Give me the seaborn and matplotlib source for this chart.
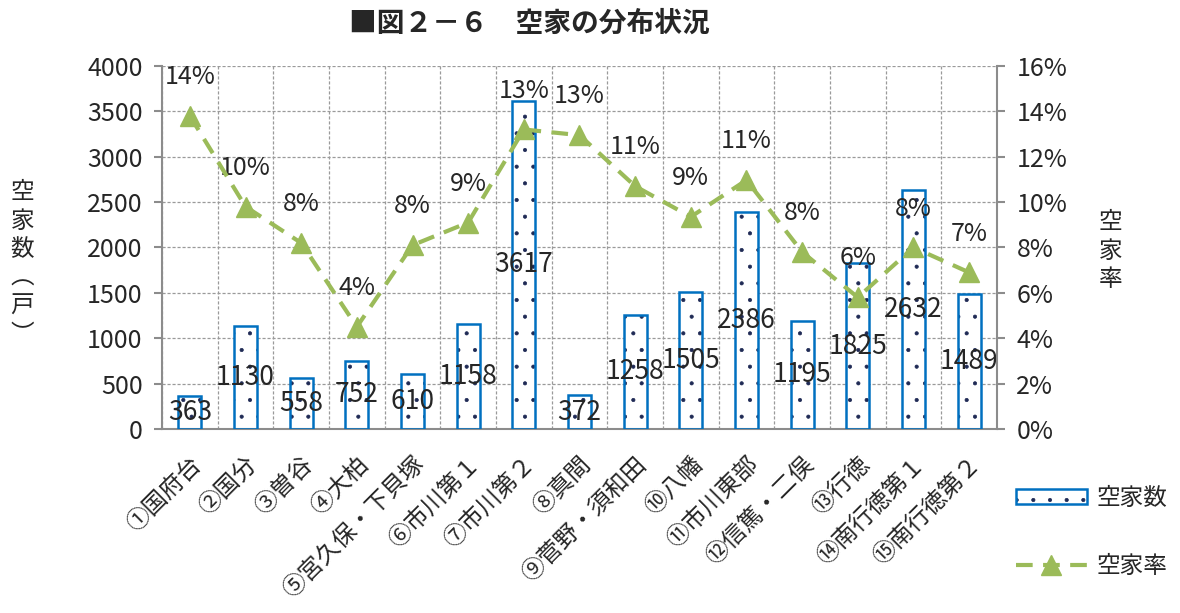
import matplotlib
matplotlib.use('Agg')
import matplotlib.pyplot as plt
import numpy as np
import seaborn as sns
from matplotlib.patches import Patch
from matplotlib.lines import Line2D

# Data
areas = ['①国府台', '②国分', '③曽谷', '④大柏', '⑤宮久保・下貝塚', '⑥市川第１',
         '⑦市川第２', '⑧真間', '⑨菅野・須和田', '⑩八幡', '⑪市川東部',
         '⑫信篤・二俣', '⑬行徳', '⑭南行徳第１', '⑮南行徳第２']
vacant = [363, 1130, 558, 752, 610, 1158, 3617, 372, 1258, 1505, 2386, 1195,
          1825, 2632, 1489]
rate = [0.138, 0.098, 0.082, 0.045, 0.081, 0.091, 0.132, 0.1295, 0.107,
        0.0935, 0.1097, 0.078, 0.058, 0.080, 0.069]
left_ticks = [0, 500, 1000, 1500, 2000, 2500, 3000, 3500, 4000]
right_ticks = [0, 0.02, 0.04, 0.06, 0.08, 0.10, 0.12, 0.14, 0.16]

sns.set_style('white')
plt.rcParams['font.family'] = ['Noto Sans CJK JP', 'DejaVu Sans']
plt.rcParams['hatch.linewidth'] = 0.5

bar_edge = '#0070C0'
dot_color = '#1F2A55'
line_color = '#9BBB59'
grid_color = '#9A9A9A'
spine_color = '#8C8C8C'
num_size = 18

fig = plt.figure(figsize=(11.8, 6.13), dpi=100)
ax = fig.add_axes([0.1373, 0.3002, 0.7076, 0.5922])

# dotted fill first, then the blue outline on top
sns.barplot(x=areas, y=vacant, ax=ax, color='white', width=0.41,
            saturation=1, linewidth=0, edgecolor=dot_color, zorder=2)
for p in ax.patches:
    p.set_hatch('.')
    p.set_edgecolor(dot_color)
    p.set_linewidth(0)
sns.barplot(x=areas, y=vacant, ax=ax, fill=False, width=0.41,
            edgecolor=bar_edge, linewidth=1.8, zorder=3)

ax.bar_label(ax.containers[0], labels=[str(v) for v in vacant],
             label_type='center', fontsize=19, zorder=5)

ax.set_xlim(-0.5, len(areas) - 0.5)
ax.set_ylim(0, 4000)
ax.set_yticks(left_ticks)
ax.set_yticklabels([str(t) for t in left_ticks], fontsize=num_size)
ax.set_xticks(np.arange(len(areas)))
ax.set_xticklabels(areas, rotation=45, ha='right', rotation_mode='anchor',
                   fontsize=17)
ax.set_xticks(np.arange(-0.5, len(areas)), minor=True)
ax.tick_params(axis='x', which='major', length=0, pad=17)
ax.tick_params(axis='x', which='minor', length=7, width=1.5, color=spine_color)
ax.tick_params(axis='y', length=6, width=1.5, color=spine_color, pad=8)

ax.grid(False)
ax.xaxis.grid(True, which='minor', color=grid_color, linestyle=(0, (2.5, 1.5)),
              linewidth=0.9)
ax.yaxis.grid(True, color=grid_color, linestyle=(0, (2.5, 1.5)), linewidth=0.9)
ax.set_axisbelow(True)

for side in ['left', 'bottom']:
    ax.spines[side].set_color(spine_color)
    ax.spines[side].set_linewidth(1.5)
ax.spines['top'].set_visible(False)
ax.spines['right'].set_visible(False)

# rate line on the right axis
ax2 = ax.twinx()
ax2.plot(np.arange(len(areas)), rate, color=line_color, linestyle=(0, (4, 2.5)),
         linewidth=3, marker='^', markersize=14, zorder=4)
for i, r in enumerate(rate):
    ax2.annotate(f'{r:.0%}', (i, r), xytext=(0, 28), textcoords='offset points',
                 ha='center', va='center', fontsize=num_size)
ax2.set_ylim(0, 0.16)
ax2.set_yticks(right_ticks)
ax2.set_yticklabels([f'{t:.0%}' for t in right_ticks], fontsize=num_size)
ax2.tick_params(axis='y', length=6, width=1.5, color=spine_color, pad=8)
ax2.grid(False)
for side in ['top', 'left', 'bottom']:
    ax2.spines[side].set_visible(False)
ax2.spines['right'].set_color(spine_color)
ax2.spines['right'].set_linewidth(1.5)

# titles
fig.text(0.449, 0.962, '■図２－６　空家の分布状況', ha='center', va='center',
         fontsize=20, fontweight='bold')
fig.text(0.019, 0.57, '空\n家\n数\n︵\n戸\n︶', ha='center', va='center',
         fontsize=17, linespacing=1.3)
fig.text(0.941, 0.59, '空\n家\n率', ha='center', va='center',
         fontsize=17, linespacing=1.3)

# legend
h_dots = Patch(facecolor='white', edgecolor=dot_color, hatch='.', linewidth=0)
h_edge = Patch(facecolor='none', edgecolor=bar_edge, linewidth=1.8)
h_line = Line2D([], [], color=line_color, linestyle=(0, (4, 2.5)), linewidth=3,
                marker='^', markersize=14)
fig.legend([(h_dots, h_edge), h_line], ['空家数', '空家率'],
           loc='upper left', bbox_to_anchor=(0.843, 0.24), frameon=False,
           fontsize=17, handlelength=3.0, handleheight=0.6, labelspacing=1.9,
           handletextpad=0.4)

fig.savefig('out.png', dpi=100)
